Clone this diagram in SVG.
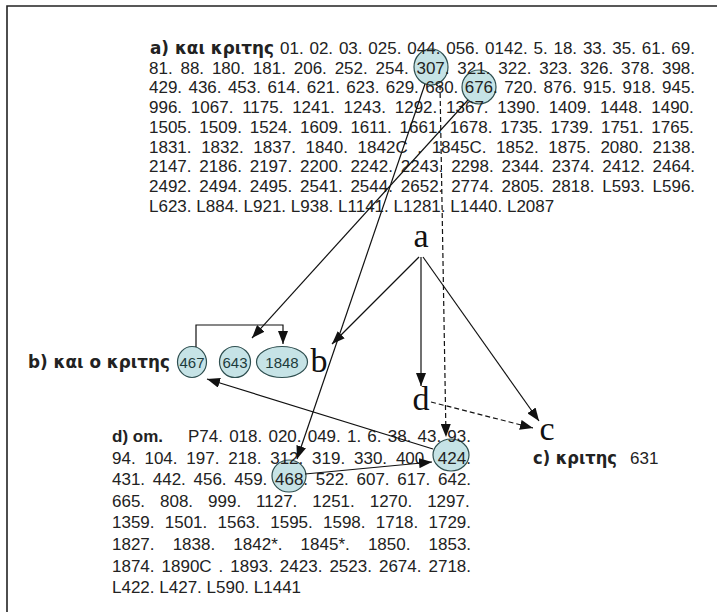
<svg xmlns="http://www.w3.org/2000/svg" width="717" height="612" viewBox="0 0 717 612">
<style>
.num{font-family:"Liberation Sans",Arial,sans-serif;font-size:17px;fill:#222}
.lbl{font-family:"DejaVu Sans","Liberation Sans",sans-serif;font-weight:bold;font-size:17px;fill:#222}
.let{font-family:"Liberation Serif","Times New Roman",serif;font-size:34px;fill:#111;text-anchor:middle}
.ell{fill:#c6e3e6;stroke:#2f4f50;stroke-width:1.2}
.et{font-family:"Liberation Sans",Arial,sans-serif;font-size:15px;fill:#1d3b3c;text-anchor:middle}
.cn{fill:none;stroke:#111;stroke-width:1.2}
.dash{stroke-dasharray:5 3}
</style>
<defs>
<marker id="ah" viewBox="0 0 13 10" refX="13" refY="5" markerWidth="13" markerHeight="10" markerUnits="userSpaceOnUse" orient="auto">
<path d="M0,0 L13,5 L0,10 Z" fill="#111"/>
</marker>
</defs>
<rect width="717" height="612" fill="#fff"/>
<path d="M7,612 V6 H717" fill="none" stroke="#222" stroke-width="1.6"/>

<g id="node-307"><ellipse class="ell" cx="431" cy="67" rx="17" ry="18"/></g>
<g id="node-676"><ellipse class="ell" cx="479" cy="87" rx="17" ry="17"/></g>
<g id="node-424"><ellipse class="ell" cx="451" cy="455" rx="18" ry="16"/></g>
<g id="node-468"><ellipse class="ell" cx="289" cy="476" rx="17" ry="16"/></g>

<g id="block-a">
<text class="lbl" x="150" y="54" textLength="124" lengthAdjust="spacingAndGlyphs">a) και κριτης</text>
<text class="num" x="280" y="54" word-spacing="1.1">01. 02. 03. 025. 044. 056. 0142. 5. 18. 33. 35. 61. 69.</text>
<text class="num" x="149" y="73.7" word-spacing="3.1">81. 88. 180. 181. 206. 252. 254. 307. 321. 322. 323. 326. 378. 398.</text>
<text class="num" x="149" y="93.4" word-spacing="1.65">429. 436. 453. 614. 621. 623. 629. 680. 676. 720. 876. 915. 918. 945.</text>
<text class="num" x="149" y="113.1" word-spacing="4.03">996. 1067. 1175. 1241. 1243. 1292. 1367. 1390. 1409. 1448. 1490.</text>
<text class="num" x="149" y="132.8" word-spacing="3.09">1505. 1509. 1524. 1609. 1611. 1661. 1678. 1735. 1739. 1751. 1765.</text>
<text class="num" x="149" y="152.5" word-spacing="4.89">1831. 1832. 1837. 1840. 1842C . 1845C. 1852. 1875. 2080. 2138.</text>
<text class="num" x="149" y="172.2" word-spacing="3.09">2147. 2186. 2197. 2200. 2242. 2243. 2298. 2344. 2374. 2412. 2464.</text>
<text class="num" x="149" y="191.9" word-spacing="3.09">2492. 2494. 2495. 2541. 2544. 2652. 2774. 2805. 2818. L593. L596.</text>
<text class="num" x="149" y="211.6">L623. L884. L921. L938. L1141. L1281. L1440. L2087</text>
</g>

<g id="block-b">
<text class="lbl" x="28" y="368" textLength="142" lengthAdjust="spacingAndGlyphs">b) και ο κριτης</text>
</g>
<g id="node-467"><ellipse class="ell" cx="192" cy="362" rx="14.5" ry="15.5"/><text class="et" x="192" y="367.5">467</text></g>
<g id="node-643"><ellipse class="ell" cx="235" cy="362" rx="15.5" ry="15.5"/><text class="et" x="235" y="367.5">643</text></g>
<g id="node-1848"><ellipse class="ell" cx="282" cy="362" rx="25.5" ry="15.5"/><text class="et" x="282" y="367.5">1848</text></g>

<g id="block-c">
<text class="lbl" x="533" y="464" textLength="84" lengthAdjust="spacingAndGlyphs">c) κριτης</text>
<text class="num" x="630" y="464">631</text>
</g>

<g id="block-d">
<text class="lbl" x="112" y="442" font-size="18" style="font-family:'Liberation Sans',Arial,sans-serif">d) om.</text>
<text class="num" x="188" y="442" word-spacing="1.46">P74. 018. 020. 049. 1. 6. 38. 43. 93.</text>
<text class="num" x="112" y="463.6" word-spacing="4.1">94. 104. 197. 218. 312. 319. 330. 400. 424.</text>
<text class="num" x="112" y="485.2" word-spacing="2.94">431. 442. 456. 459. 468. 522. 607. 617. 642.</text>
<text class="num" x="112" y="506.8" word-spacing="10.2">665. 808. 999. 1127. 1251. 1270. 1297.</text>
<text class="num" x="112" y="528.4" word-spacing="5.48">1359. 1501. 1563. 1595. 1598. 1718. 1729.</text>
<text class="num" x="112" y="550" word-spacing="13.4">1827. 1838. 1842*. 1845*. 1850. 1853.</text>
<text class="num" x="112" y="571.6" word-spacing="2.27">1874. 1890C . 1893. 2423. 2523. 2674. 2718.</text>
<text class="num" x="112" y="593.2">L422. L427. L590. L1441</text>
</g>

<g id="node-a"><text class="let" x="421" y="247">a</text></g>
<g id="node-b"><text class="let" x="319" y="372">b</text></g>
<g id="node-d"><text class="let" x="421" y="410">d</text></g>
<g id="node-c"><text class="let" x="547" y="440">c</text></g>

<g id="connectors">
<line class="cn" x1="468" y1="100" x2="252" y2="338" marker-end="url(#ah)"/>
<line class="cn" x1="425" y1="84" x2="297" y2="459" marker-end="url(#ah)"/>
<path class="cn" d="M196,347 V325 H283 V344" marker-end="url(#ah)"/>
<line class="cn" x1="419" y1="257" x2="332" y2="344" marker-end="url(#ah)"/>
<line class="cn" x1="421" y1="257" x2="421" y2="386" marker-end="url(#ah)"/>
<line class="cn" x1="423" y1="257" x2="539" y2="421" marker-end="url(#ah)"/>
<line class="cn dash" x1="431" y1="402" x2="533" y2="428" marker-end="url(#ah)"/>
<line class="cn dash" x1="440" y1="85" x2="446" y2="437" marker-end="url(#ah)"/>
<line class="cn" x1="433" y1="449" x2="207" y2="379" marker-end="url(#ah)"/>
<line class="cn" x1="305" y1="474" x2="432" y2="462" marker-end="url(#ah)"/>
</g>
</svg>
